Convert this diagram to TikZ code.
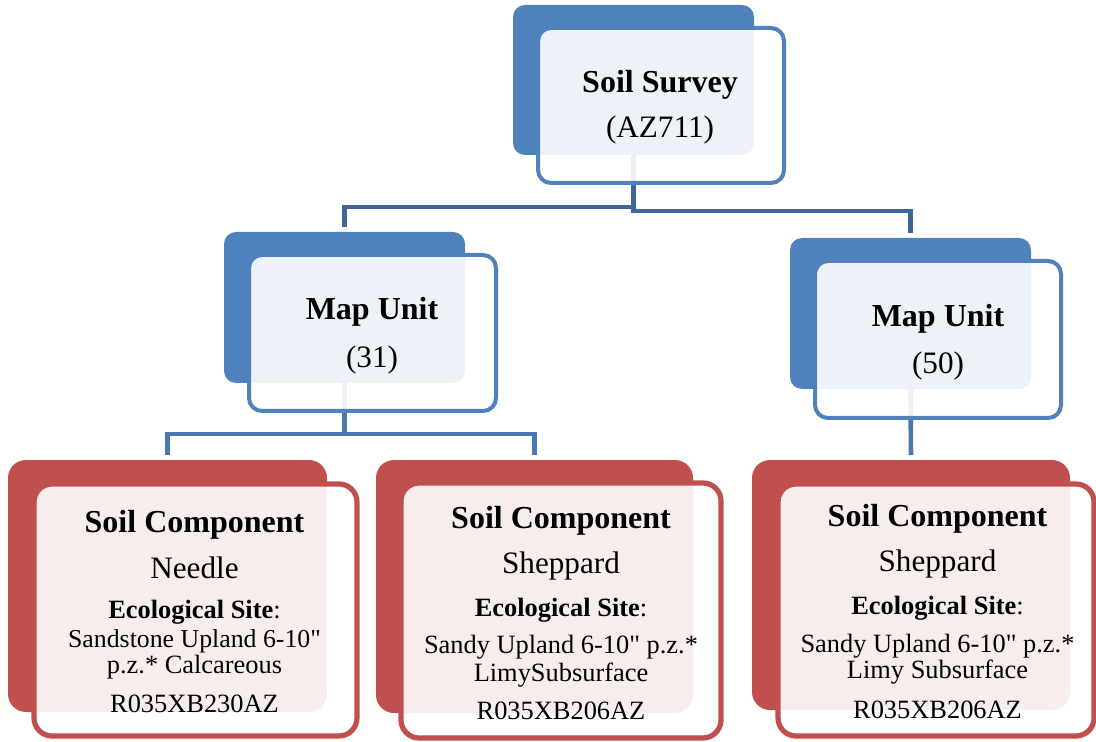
\documentclass[tikz,border=0pt]{standalone}
\usepackage{fontspec}
\setmainfont{Liberation Serif}[Ligatures=TeXOff]
\usetikzlibrary{fit}
\definecolor{bluedark}{HTML}{4F81BD}
\definecolor{reddark}{HTML}{C0504D}
\definecolor{conntop}{HTML}{41679A}
\definecolor{connlow}{HTML}{4A77B0}
\tikzset{
  backbox/.style={inner sep=0pt, outer sep=0pt},
  bluebackbox/.style={backbox, fill=bluedark, rounded corners=6pt},
  redbackbox/.style={backbox, fill=reddark, rounded corners=9pt},
  bluefrontbox/.style={backbox, draw=bluedark, line width=2pt, fill=white, fill opacity=0.9, draw opacity=1, rounded corners=6.5pt},
  redfrontbox/.style={backbox, draw=reddark, line width=2.6pt, fill=white, fill opacity=0.9, draw opacity=1, rounded corners=9pt},
  titletext/.style={font=\fontsize{16}{19}\selectfont\bfseries, anchor=base, inner sep=0pt},
  subtext/.style={font=\fontsize{15.6}{18}\selectfont, anchor=base, inner sep=0pt},
  ecotext/.style={font=\fontsize{13.2}{15}\selectfont, anchor=base, inner sep=0pt},
  conntopline/.style={draw=conntop, line width=2.4pt, shorten >=2.5pt},
  connlowline/.style={draw=connlow, line width=2.3pt, shorten >=2.5pt},
}
\begin{document}
\begin{tikzpicture}[x=0.5pt,y=-0.5pt]
\useasboundingbox (0,0) rectangle (1096,742);

% back boxes
\node[bluebackbox, fit={(513,5) (754,155)}] (ssd) {};
\node[bluebackbox, fit={(224,232) (465,383)}] (mu1d) {};
\node[bluebackbox, fit={(790,238) (1031,389)}] (mu2d) {};
\node[redbackbox, fit={(8,460) (327,712)}] (c1d) {};
\node[redbackbox, fit={(376,460) (693,713)}] (c2d) {};
\node[redbackbox, fit={(752,460) (1070,710)}] (c3d) {};

% connectors
\draw[conntopline] (ssd.south) -- (ssd.south |- 0,207) -| (mu1d.north);
\draw[conntopline] (ssd.south) -- (ssd.south |- 0,211) -| (mu2d.north);
\draw[connlowline] (mu1d.south) -- (mu1d.south |- 0,434) -| (c1d.north);
\draw[connlowline] (mu1d.south) -- (mu1d.south |- 0,434) -| (c2d.north);
\draw[connlowline] (mu2d.south) -- (c3d.north);

% front boxes
\node[bluefrontbox, fit={(538,28) (784,183)}] (ssf) {};
\node[bluefrontbox, fit={(249,255) (496,411)}] (mu1f) {};
\node[bluefrontbox, fit={(815,261) (1061,418)}] (mu2f) {};
\node[redfrontbox, fit={(34,484) (357,736)}] (c1f) {};
\node[redfrontbox, fit={(401,483) (721,738)}] (c2f) {};
\node[redfrontbox, fit={(778,484) (1094,736)}] (c3f) {};

% texts: soil survey
\node[titletext] (sst) at (660,93) {Soil Survey};
\node[subtext] (sss) at (660,138) {(AZ711)};
% map units
\node[titletext] (mu1t) at (372,320) {Map Unit};
\node[subtext] (mu1s) at (372,368) {(31)};
\node[titletext] (mu2t) at (938,327) {Map Unit};
\node[subtext] (mu2s) at (938,374) {(50)};
% component 1
\node[titletext] (c1t) at (194.5,532) {Soil Component};
\node[subtext] (c1s) at (194.5,578) {Needle};
\node[ecotext] (c1e) at (194.5,618) {\bfseries Ecological Site\mdseries:};
\node[ecotext, font=\fontsize{12.9}{15}\selectfont] (c1a) at (194.5,647) {Sandstone Upland 6-10"};
\node[ecotext] (c1b) at (194.5,673) {p.z.* Calcareous};
\node[ecotext] (c1c) at (194.5,712) {R035XB230AZ};
% component 2
\node[titletext] (c2t) at (561,528) {Soil Component};
\node[subtext] (c2s) at (561,573) {Sheppard};
\node[ecotext] (c2e) at (561,616) {\bfseries Ecological Site\mdseries:};
\node[ecotext] (c2a) at (561,653) {Sandy Upland 6-10" p.z.*};
\node[ecotext] (c2b) at (561,681) {LimySubsurface};
\node[ecotext] (c2c) at (561,719) {R035XB206AZ};
% component 3
\node[titletext] (c3t) at (937.5,526) {Soil Component};
\node[subtext] (c3s) at (937.5,571) {Sheppard};
\node[ecotext] (c3e) at (937.5,614) {\bfseries Ecological Site\mdseries:};
\node[ecotext] (c3a) at (937.5,652) {Sandy Upland 6-10" p.z.*};
\node[ecotext] (c3b) at (937.5,678) {Limy Subsurface};
\node[ecotext] (c3c) at (937.5,718) {R035XB206AZ};
\end{tikzpicture}
\end{document}
